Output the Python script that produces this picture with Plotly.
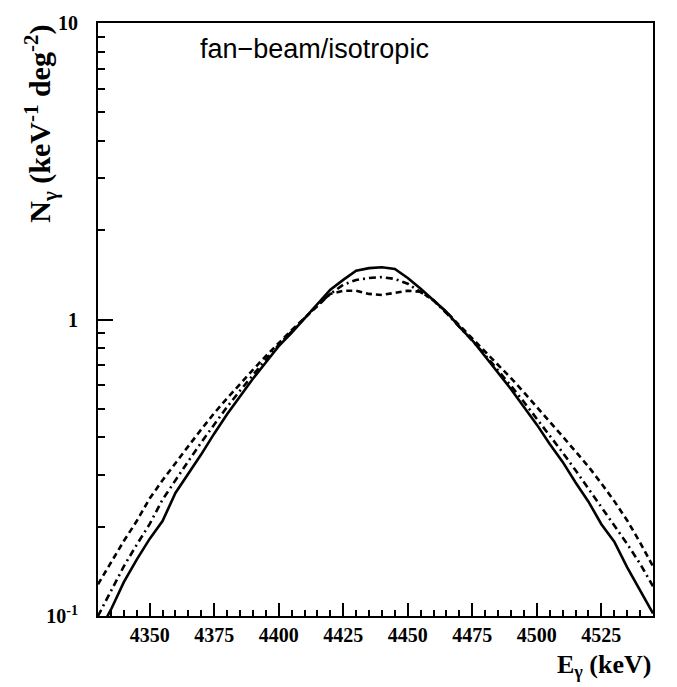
import plotly.graph_objects as go

# Photon energy grid (keV)
energy = [4330, 4335, 4340, 4345, 4350, 4355, 4360, 4365, 4370, 4375,
          4380, 4385, 4390, 4395, 4400, 4405, 4410, 4415, 4420, 4425,
          4430, 4435, 4440, 4445, 4450, 4455, 4460, 4465, 4470, 4475,
          4480, 4485, 4490, 4495, 4500, 4505, 4510, 4515, 4520, 4525,
          4530, 4535, 4540, 4545]

# Solid curve
n_solid = [0.087, 0.105, 0.130, 0.155, 0.182, 0.209, 0.260, 0.302, 0.351, 0.412,
           0.479, 0.550, 0.631, 0.716, 0.813, 0.902, 1.01, 1.135, 1.26, 1.36,
           1.46, 1.49, 1.50, 1.48, 1.38, 1.27, 1.16, 1.06, 0.944, 0.851,
           0.750, 0.661, 0.582, 0.507, 0.442, 0.380, 0.331, 0.282, 0.243, 0.204,
           0.178, 0.146, 0.122, 0.102]

# Dash-dotted curve
n_dashdot = [0.100, 0.122, 0.147, 0.174, 0.204, 0.247, 0.288, 0.333, 0.385, 0.443,
             0.507, 0.575, 0.650, 0.733, 0.821, 0.910, 1.01, 1.12, 1.22, 1.31,
             1.36, 1.38, 1.39, 1.37, 1.32, 1.24, 1.16, 1.05, 0.946, 0.849,
             0.759, 0.675, 0.597, 0.527, 0.463, 0.406, 0.356, 0.310, 0.269, 0.233,
             0.201, 0.175, 0.150, 0.126]

# Dashed curve
n_dashed = [0.128, 0.152, 0.179, 0.209, 0.249, 0.287, 0.329, 0.374, 0.426, 0.483,
            0.542, 0.607, 0.676, 0.753, 0.834, 0.920, 1.01, 1.11, 1.22, 1.25,
            1.25, 1.22, 1.21, 1.23, 1.25, 1.24, 1.16, 1.06, 0.957, 0.867,
            0.784, 0.705, 0.634, 0.568, 0.508, 0.453, 0.403, 0.359, 0.319, 0.280,
            0.244, 0.210, 0.177, 0.147]

y_tickvals = [0.1, 1, 10]
y_ticktext = ["10<sup>-1</sup>", "1", "10"]
y_minor = [0.2, 0.3, 0.4, 0.5, 0.6, 0.7, 0.8, 0.9, 2, 3, 4, 5, 6, 7, 8, 9]

fig = go.Figure()
fig.add_trace(go.Scatter(x=energy, y=n_dashed, mode="lines",
                         line=dict(color="black", width=2.6, dash="6px,4px")))
fig.add_trace(go.Scatter(x=energy, y=n_dashdot, mode="lines",
                         line=dict(color="black", width=2.6, dash="7px,4px,2px,4px")))
fig.add_trace(go.Scatter(x=energy, y=n_solid, mode="lines",
                         line=dict(color="black", width=2.6)))

serif = "Liberation Serif"
fig.update_layout(
    width=677, height=687,
    margin=dict(l=98, r=24, t=14, b=71),
    paper_bgcolor="white", plot_bgcolor="white",
    showlegend=False,
    xaxis=dict(range=[4330, 4545], showline=True, linecolor="black", linewidth=2,
               mirror=True, showgrid=False, zeroline=False,
               ticks="inside", ticklen=13, tickwidth=1.5, tickcolor="black",
               tick0=4350, dtick=25,
               minor=dict(ticks="inside", ticklen=6, tickwidth=1.5, tickcolor="black",
                          dtick=5, tick0=4330, showgrid=False),
               tickfont=dict(family=serif, size=20, color="black", weight="bold"),
               ticklabelstandoff=0),
    yaxis=dict(type="log", range=[-1, 1], showline=True, linecolor="black", linewidth=2,
               mirror=True, showgrid=False, zeroline=False,
               ticks="inside", ticklen=15, tickwidth=1.5, tickcolor="black",
               tickvals=y_tickvals, ticktext=y_ticktext,
               minor=dict(ticks="inside", ticklen=7, tickwidth=1.5, tickcolor="black",
                          tickvals=y_minor, showgrid=False),
               tickfont=dict(family=serif, size=20, color="black", weight="bold"),
               ticklabelstandoff=14),
)

fig.add_annotation(xref="paper", yref="paper", x=0.39, y=0.985,
                   text="fan\u2212beam/isotropic", showarrow=False,
                   font=dict(family="Liberation Sans", size=27, color="black"))
fig.add_annotation(xref="paper", yref="paper", x=-0.105, y=1.0, xanchor="center", yanchor="top",
                   textangle=-90, showarrow=False,
                   text="<b>N<sub>\u03b3</sub> (keV<sup>-1</sup> deg<sup>-2</sup>)</b>",
                   font=dict(family=serif, size=30, color="black"))
fig.add_annotation(xref="paper", yref="paper", x=1.0, y=-0.085, xanchor="right", yanchor="middle",
                   showarrow=False,
                   text="<b>E<sub>\u03b3</sub> (keV)</b>",
                   font=dict(family=serif, size=26, color="black"))

fig.write_html("out.html")
